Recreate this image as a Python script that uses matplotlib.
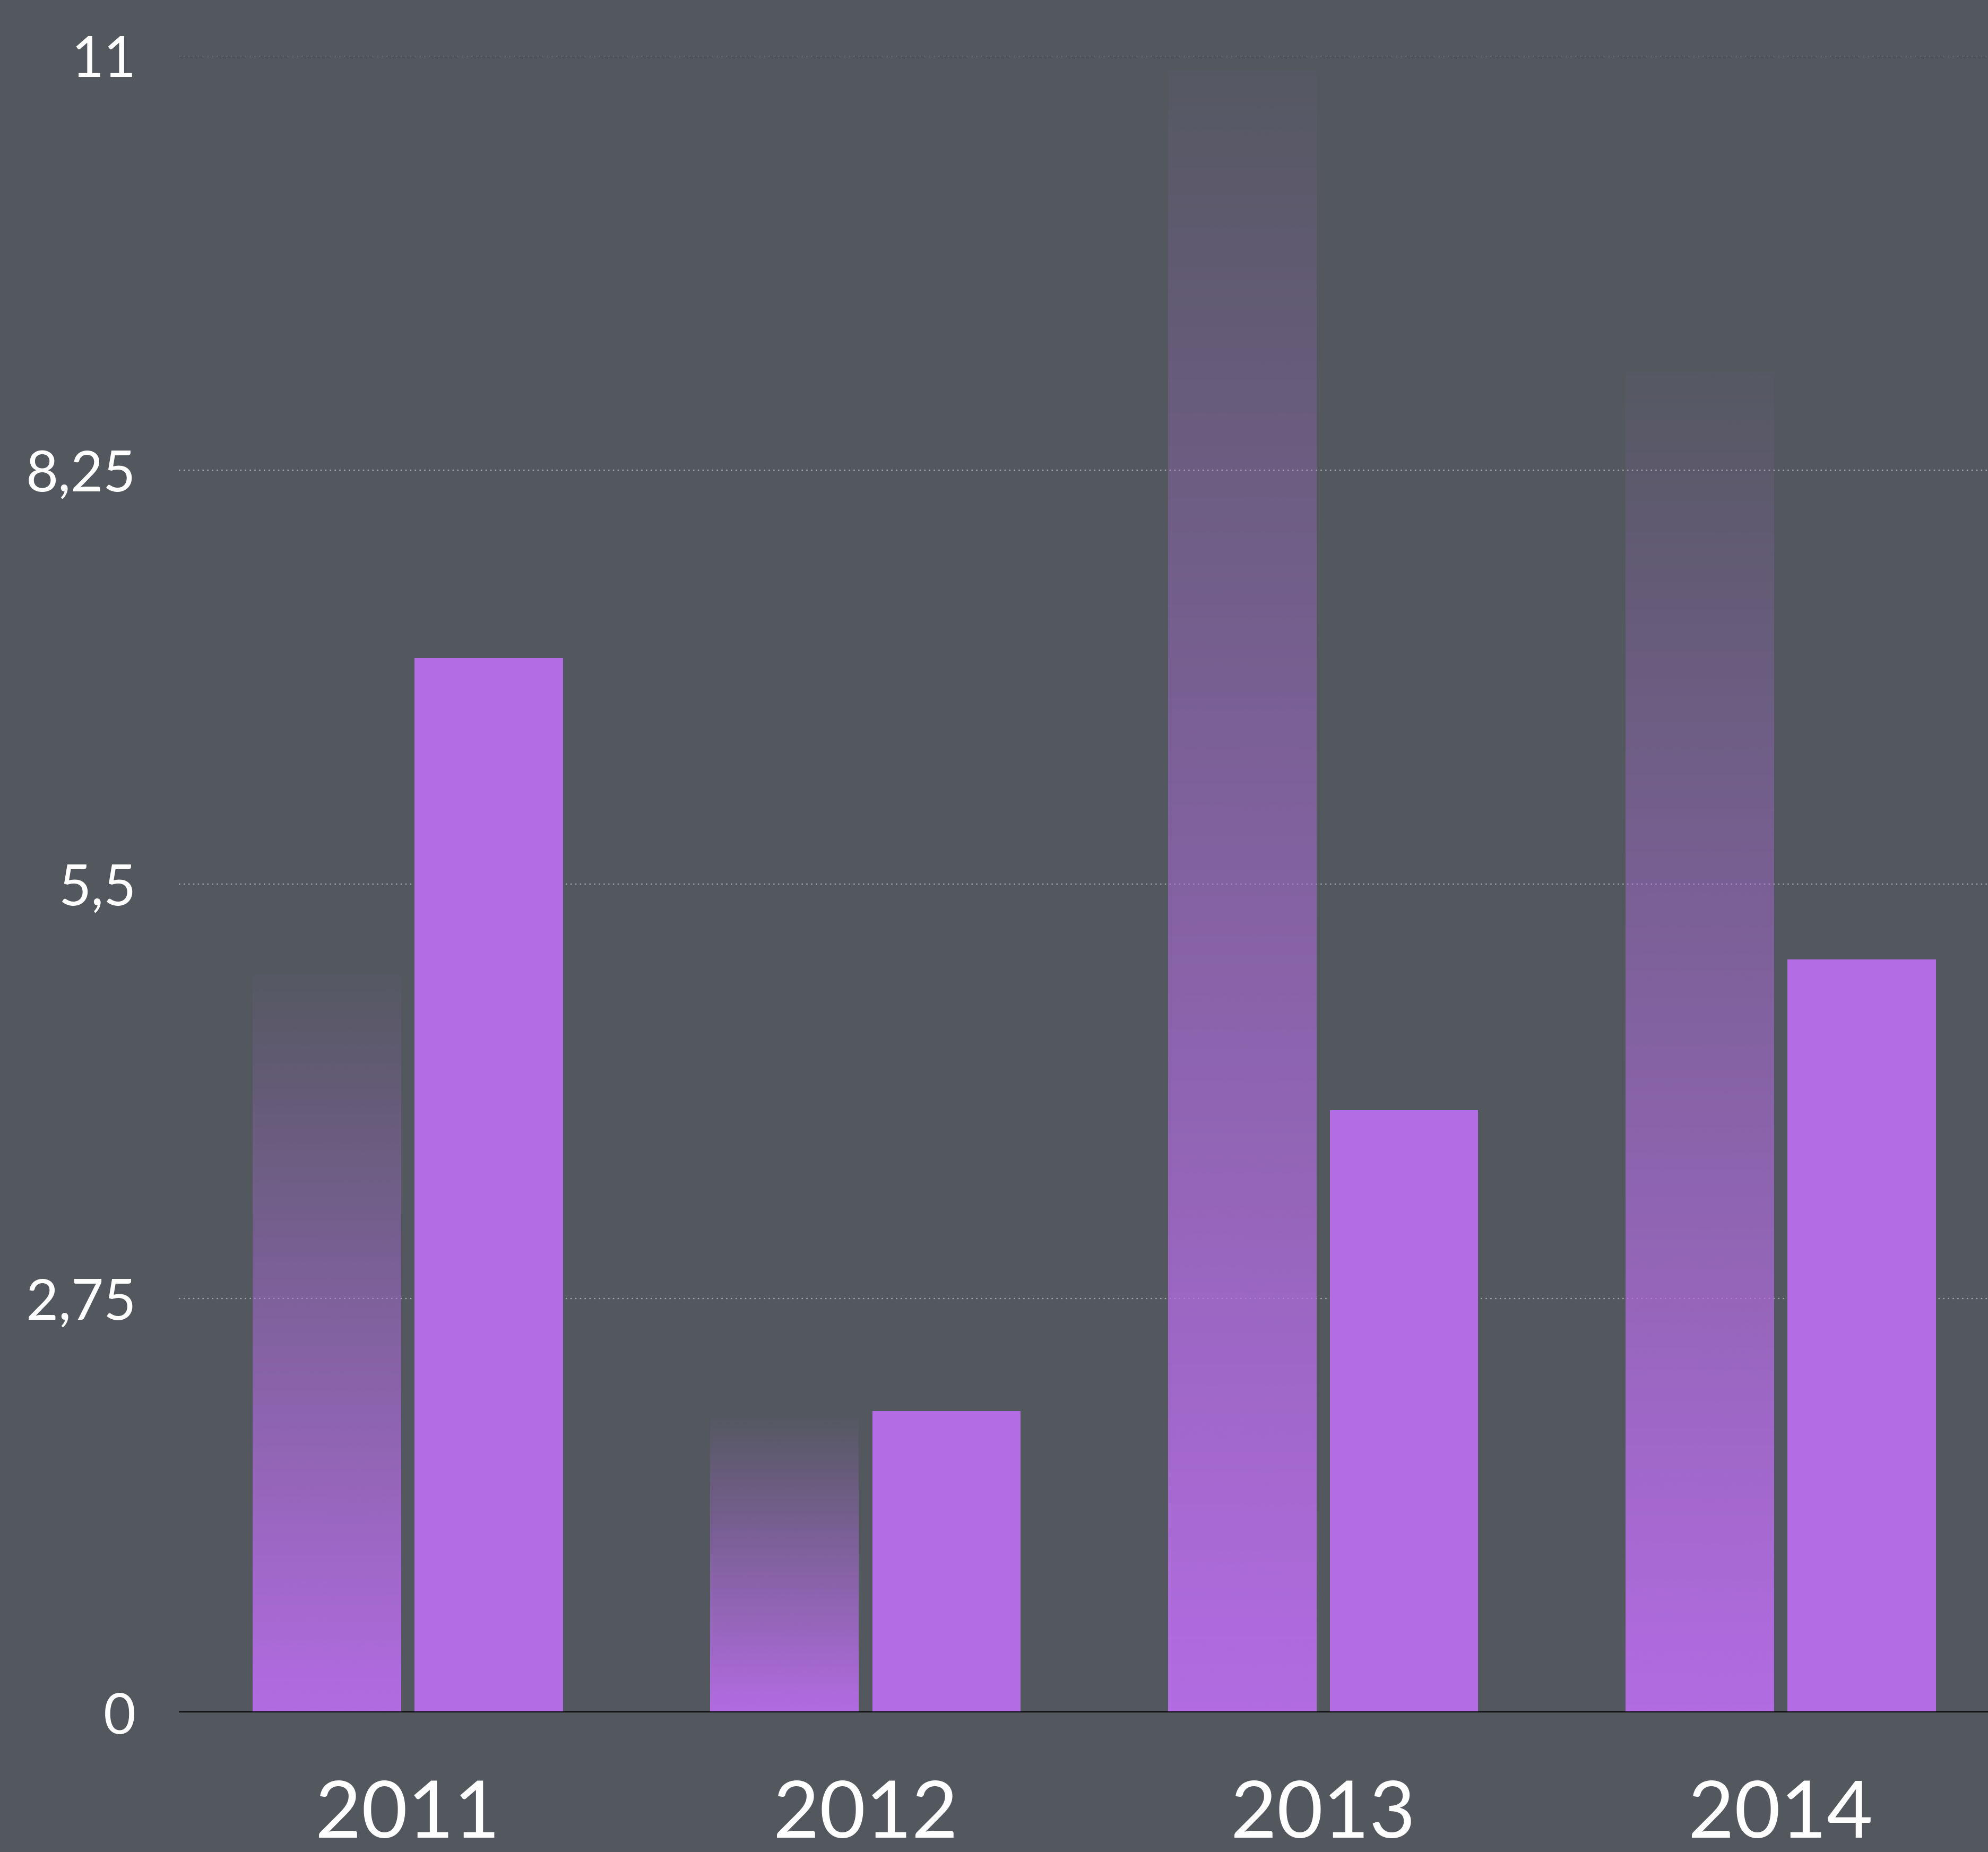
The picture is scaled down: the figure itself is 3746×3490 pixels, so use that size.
import matplotlib
matplotlib.use("Agg")
import matplotlib.pyplot as plt
import numpy as np

# data
years = ['2011', '2012', '2013', '2014']
faded_vals = [4.9, 1.95, 10.9, 8.9]
solid_vals = [7.0, 2.0, 4.0, 5.0]
ytick_vals = [0, 2.75, 5.5, 8.25, 11]
ytick_labels = ['0', '2,75', '5,5', '8,25', '11']

bg = '#53585f'
purple = '#b36ce3'

plt.rcParams['font.family'] = ['Lato', 'DejaVu Sans']

fig = plt.figure(figsize=(37.46, 34.91), dpi=100, facecolor=bg)
ax = fig.add_axes([337 / 3746, 263 / 3491, 1 - 337 / 3746, (3228 - 106) / 3491])
ax.set_facecolor(bg)

x = np.arange(len(years))
w = 0.324
off = 0.177

# gradient bars: purple at bottom fading out at top
rgb = matplotlib.colors.to_rgb(purple)
grad = np.zeros((256, 1, 4))
grad[:, 0, :3] = rgb
grad[:, 0, 3] = np.linspace(1.0, 0.03, 256)
for xi, v in zip(x, faded_vals):
    ax.imshow(grad, extent=[xi - off - w / 2, xi - off + w / 2, 0, v],
              origin='lower', aspect='auto', zorder=2, interpolation='bilinear')

ax.bar(x + off, solid_vals, width=w, color=purple, zorder=2)

ax.set_xlim(-0.5, 3.453)
ax.set_ylim(0, 11)

# grid
for yv in ytick_vals[1:]:
    ax.axhline(yv, color='#a3a5a8', lw=1.6, ls=(0, (1.2, 2.8)), zorder=1)
ax.axhline(0, color='black', lw=3, zorder=3)

for s in ax.spines.values():
    s.set_visible(False)

ax.set_yticks(ytick_vals)
ax.set_yticklabels(ytick_labels)
ax.set_xticks(x)
ax.set_xticklabels(years)
ax.tick_params(axis='y', length=0, pad=58, labelsize=76, labelcolor='white')
ax.tick_params(axis='x', length=0, pad=90, labelsize=108, labelcolor='white')

fig.savefig('out.png', dpi=100, facecolor=bg)
